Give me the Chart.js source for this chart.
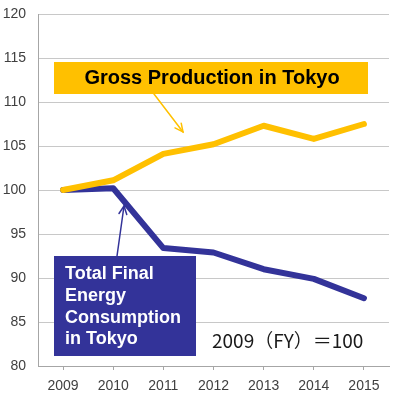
<!DOCTYPE html>
<html>
<head>
<meta charset="utf-8">
<script src="https://cdn.jsdelivr.net/npm/chart.js@4.4.0/dist/chart.umd.min.js"></script>
<style>
html,body{margin:0;padding:0;background:#fff;}
#wrap{width:406px;height:398px;position:relative;}
</style>
</head>
<body>
<div id="wrap"><canvas id="c" width="406" height="398"></canvas></div>
<script>
const years = ['2009','2010','2011','2012','2013','2014','2015'];
const grossProduction = [100, 101.1, 104.1, 105.2, 107.3, 105.8, 107.5];
const energyConsumption = [100, 100.2, 93.4, 92.9, 91.0, 89.9, 87.7];
const yTicks = [80, 85, 90, 95, 100, 105, 110, 115, 120];
const grossLabel = 'Gross Production in Tokyo';
const energyLabel = ['Total Final', 'Energy', 'Consumption', 'in Tokyo'];
const baseNote = '2009（FY）＝100';

const GOLD = '#FFC000';
const NAVY = '#333399';

function arrow(ctx, x1, y1, x2, y2, color, head) {
  ctx.save();
  ctx.strokeStyle = color;
  ctx.lineWidth = 1.5;
  ctx.lineCap = 'round';
  ctx.beginPath();
  ctx.moveTo(x1, y1);
  ctx.lineTo(x2, y2);
  ctx.stroke();
  const a = Math.atan2(y2 - y1, x2 - x1);
  ctx.beginPath();
  ctx.moveTo(x2 - head * Math.cos(a - 0.45), y2 - head * Math.sin(a - 0.45));
  ctx.lineTo(x2, y2);
  ctx.lineTo(x2 - head * Math.cos(a + 0.45), y2 - head * Math.sin(a + 0.45));
  ctx.stroke();
  ctx.restore();
}

const annotations = {
  id: 'annotations',
  afterDatasetsDraw(chart) {
    const ctx = chart.ctx;
    ctx.save();
    // Gold box
    ctx.fillStyle = GOLD;
    ctx.fillRect(54, 62, 314, 32);
    ctx.fillStyle = '#000';
    ctx.font = 'bold 20px "Liberation Sans", Arial, sans-serif';
    ctx.textAlign = 'center';
    ctx.textBaseline = 'alphabetic';
    ctx.fillText(grossLabel, 212, 84);
    arrow(ctx, 154, 94, 183, 132, GOLD, 9);

    // Navy box
    ctx.fillStyle = NAVY;
    ctx.fillRect(54, 256, 142, 100);
    ctx.fillStyle = '#fff';
    ctx.font = 'bold 18px "Liberation Sans", Arial, sans-serif';
    ctx.textAlign = 'left';
    const bases = [279, 301, 323, 344];
    energyLabel.forEach((t, i) => ctx.fillText(t, 65, bases[i]));
    arrow(ctx, 117, 256, 124, 206, NAVY, 9);

    // Base note
    ctx.fillStyle = '#1a1a1a';
    ctx.font = '19px "Noto Sans CJK JP", sans-serif';
    ctx.textAlign = 'left';
    ctx.fillText(baseNote, 212, 348);
    ctx.restore();
  }
};

new Chart(document.getElementById('c'), {
  type: 'line',
  data: {
    labels: years,
    datasets: [
      {
        label: grossLabel,
        data: grossProduction,
        borderColor: GOLD,
        borderWidth: 6,
        pointRadius: 0,
        tension: 0,
        borderJoinStyle: 'round',
        borderCapStyle: 'round'
      },
      {
        label: energyLabel.join(' '),
        data: energyConsumption,
        borderColor: NAVY,
        borderWidth: 6,
        pointRadius: 0,
        tension: 0,
        borderJoinStyle: 'round',
        borderCapStyle: 'round'
      }
    ]
  },
  options: {
    responsive: false,
    animation: false,
    events: [],
    layout: { padding: { top: 14, right: 17, left: 0, bottom: 0 } },
    plugins: { legend: { display: false }, tooltip: { enabled: false } },
    scales: {
      x: {
        type: 'category',
        offset: true,
        grid: {
          display: true,
          drawOnChartArea: false,
          drawTicks: true,
          offset: false,
          tickLength: 4,
          color: '#A6A6A6'
        },
        border: { display: true, color: '#A6A6A6', width: 1 },
        ticks: {
          color: '#404040',
          padding: 8,
          maxRotation: 0,
          font: { family: '"Liberation Sans", Arial, sans-serif', size: 14 }
        },
        afterFit(s) { s.height = 32; s.paddingLeft = 0; s.paddingRight = 0; }
      },
      y: {
        min: 80,
        max: 120,
        afterBuildTicks(s) { s.ticks = yTicks.map(v => ({ value: v })); },
        grid: { color: '#C8C8C8', drawTicks: false, lineWidth: 1 },
        border: { display: true, color: '#A6A6A6', width: 1 },
        ticks: {
          color: '#404040',
          padding: 12,
          font: { family: '"Liberation Sans", Arial, sans-serif', size: 14 }
        },
        afterFit(s) { s.width = 38; s.paddingTop = 0; s.paddingBottom = 0; }
      }
    }
  },
  plugins: [annotations]
});
</script>
</body>
</html>
